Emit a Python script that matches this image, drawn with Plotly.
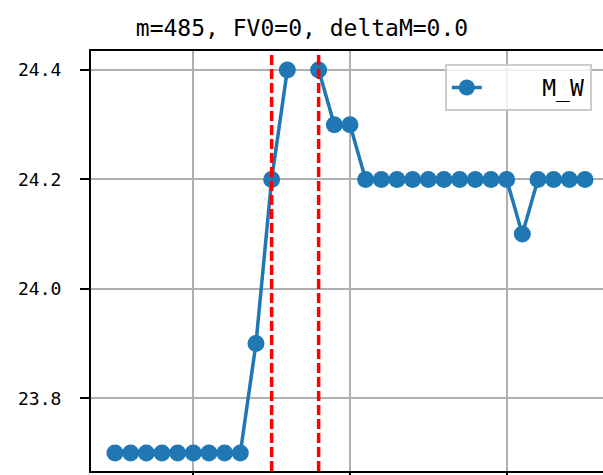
import plotly.graph_objects as go

# data
x_vals = list(range(455, 486))
m_w = [23.7, 23.7, 23.7, 23.7, 23.7, 23.7, 23.7, 23.7, 23.7,
       23.9, 24.2, 24.4, None, 24.4, 24.3, 24.3,
       24.2, 24.2, 24.2, 24.2, 24.2, 24.2, 24.2, 24.2, 24.2, 24.2,
       24.1, 24.2, 24.2, 24.2, 24.2]
vlines = [465, 468]
y_ticks = [23.8, 24.0, 24.2, 24.4]
y_labels = ["23.8", "24.0", "24.2", "24.4"]
x_ticks = [460, 470, 480]
title_text = "m=485, FV0=0, deltaM=0.0"

font_family = "DejaVu Sans Mono"
blue = "#1f77b4"

fig = go.Figure()
fig.add_trace(go.Scatter(
    x=x_vals, y=m_w, mode="lines+markers", name="\u00a0\u00a0\u00a0\u00a0M_W",
    line=dict(color=blue, width=3.5),
    marker=dict(color=blue, size=17),
    connectgaps=False,
))

# the two red dashed markers
for xv in vlines:
    fig.add_shape(type="line", x0=xv, x1=xv, xref="x", y0=0, y1=1, yref="paper",
                  line=dict(color="red", width=3.5, dash="10px,4px"))

fig.update_layout(
    width=603, height=475,
    margin=dict(l=91, r=0, t=51, b=4),
    paper_bgcolor="white", plot_bgcolor="white",
    font=dict(family=font_family, color="black"),
    title=dict(text=title_text, x=302 / 603, xref="container", xanchor="center",
               y=1 - 27.5 / 475, yref="container", yanchor="middle",
               font=dict(size=23, family=font_family, color="black")),
    showlegend=True,
    legend=dict(x=0.691, xanchor="left", y=0.969, yanchor="top",
                bgcolor="rgba(255,255,255,0.8)", bordercolor="#cccccc", borderwidth=2,
                font=dict(size=23, family=font_family, color="black")),
)

fig.update_xaxes(
    range=[453.47, 486.15], tickvals=x_ticks, showticklabels=False,
    showgrid=True, gridcolor="#b0b0b0", gridwidth=2,
    showline=True, linecolor="black", linewidth=2, mirror=True,
    ticks="outside", ticklen=9, tickwidth=2, tickcolor="black", zeroline=False,
    automargin=False,
)
fig.update_yaxes(
    range=[23.667, 24.4347], tickvals=y_ticks, ticktext=y_labels,
    showgrid=True, gridcolor="#b0b0b0", gridwidth=2,
    showline=True, linecolor="black", linewidth=2, mirror=False,
    ticks="outside", ticklen=9, tickwidth=2, tickcolor="black", zeroline=False,
    ticklabelstandoff=15, automargin=False,
    tickfont=dict(size=18, family=font_family, color="black"),
)

# drop the default page margin so the figure fills the window exactly
fig.write_html("out.html", config={"displayModeBar": False},
               post_script="document.body.style.margin='0';")
